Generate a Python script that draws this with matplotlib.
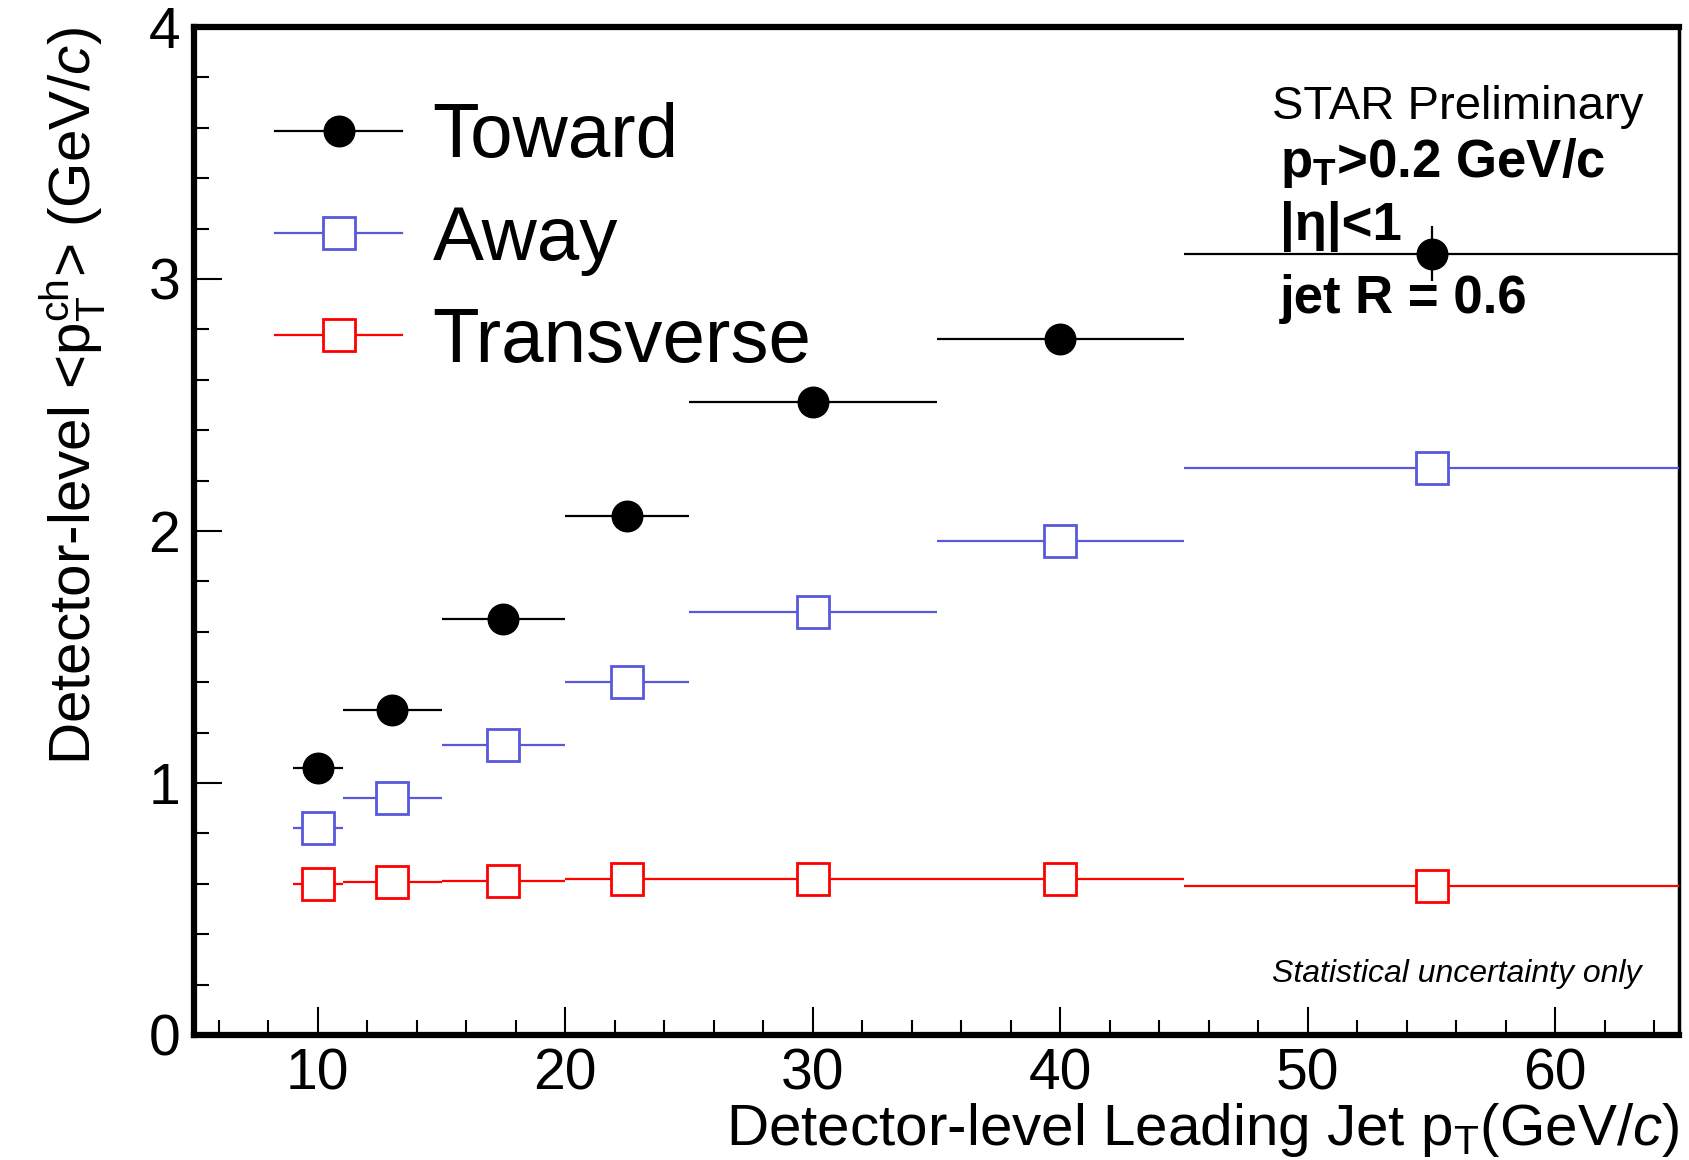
import matplotlib
matplotlib.use('Agg')
import matplotlib.pyplot as plt
from matplotlib.lines import Line2D
from matplotlib.ticker import MultipleLocator
import numpy as np

plt.rcParams['font.family'] = ['Liberation Sans', 'DejaVu Sans']
plt.rcParams['mathtext.fontset'] = 'custom'
plt.rcParams['mathtext.rm'] = 'Liberation Sans'
plt.rcParams['mathtext.it'] = 'Liberation Sans:italic'
plt.rcParams['mathtext.bf'] = 'Liberation Sans:bold'

# leading jet pT bins (GeV/c)
bin_lo = np.array([9, 11, 15, 20, 25, 35, 45])
bin_hi = np.array([11, 15, 20, 25, 35, 45, 65])

toward = np.array([1.06, 1.29, 1.65, 2.06, 2.51, 2.76, 3.10])
toward_err = np.array([0.004, 0.005, 0.007, 0.01, 0.015, 0.03, 0.11])
away = np.array([0.82, 0.94, 1.15, 1.40, 1.68, 1.96, 2.25])
away_err = np.array([0.004, 0.005, 0.006, 0.008, 0.012, 0.025, 0.05])
transverse = np.array([0.60, 0.605, 0.612, 0.62, 0.62, 0.617, 0.59])
transverse_err = np.array([0.002, 0.002, 0.003, 0.003, 0.004, 0.006, 0.01])

centers = (bin_lo + bin_hi) / 2
xerr = (bin_hi - bin_lo) / 2

blue = '#5858dc'

fig = plt.figure(figsize=(16.9, 11.6), dpi=100)
ax = fig.add_axes([0.1148, 0.1078, 0.8787, 0.8690])

ax.errorbar(centers, transverse, xerr=xerr, yerr=transverse_err, fmt='s', color='red',
            mfc='white', mec='red', ms=23, mew=2, elinewidth=1.6, capsize=0, zorder=3)
ax.errorbar(centers, away, xerr=xerr, yerr=away_err, fmt='s', color=blue,
            mfc='white', mec=blue, ms=23, mew=2, elinewidth=1.6, capsize=0, zorder=3)
ax.errorbar(centers, toward, xerr=xerr, yerr=toward_err, fmt='o', color='black',
            mfc='black', mec='black', ms=22, elinewidth=1.6, capsize=0, zorder=4)

ax.set_xlim(5, 65)
ax.set_ylim(0, 4)
ax.xaxis.set_major_locator(MultipleLocator(10))
ax.xaxis.set_minor_locator(MultipleLocator(2))
ax.yaxis.set_major_locator(MultipleLocator(1))
ax.yaxis.set_minor_locator(MultipleLocator(0.2))
ax.tick_params(which='both', direction='in', width=1.5, top=False, right=False)
ax.tick_params(which='major', length=20, labelsize=41)
ax.tick_params(which='minor', length=11)
ax.tick_params(axis='x', which='major', pad=9)
ax.tick_params(axis='y', which='major', pad=10)
for side in ['left', 'bottom', 'top']:
    ax.spines[side].set_linewidth(4.5)
ax.spines['right'].set_linewidth(2.5)

ax.set_xlabel(r'Detector-level Leading Jet p$_{\mathregular{T}}$(GeV/$c$)', fontsize=42, loc='right')
ax.xaxis.set_label_coords(1.0, -0.066)
ax.set_ylabel(r'Detector-level <p$_{\mathregular{T}}^{\mathregular{ch}}$> (GeV/$c$)', fontsize=42, loc='top')
ax.yaxis.set_label_coords(-0.058, 1.0)

handles = [
    Line2D([], [], color='black', marker='o', ms=22, mfc='black', lw=1.6),
    Line2D([], [], color=blue, marker='s', ms=23, mfc='white', mew=2, lw=1.6),
    Line2D([], [], color='red', marker='s', ms=23, mfc='white', mew=2, lw=1.6),
]
ax.legend(handles, ['Toward', 'Away', 'Transverse'], loc='upper left',
          bbox_to_anchor=(0.029, 0.963), frameon=False, fontsize=55,
          handlelength=1.66, handletextpad=0.4, labelspacing=0.41, borderpad=0)

ax.text(0.726, 0.909, 'STAR Preliminary', transform=ax.transAxes, fontsize=34,
        fontweight='light', ha='left', va='baseline')
ax.text(0.731, 0.851, r'$\mathbf{p_{T}}$>0.2 GeV/c', transform=ax.transAxes, fontsize=38,
        fontweight='bold', ha='left', va='baseline')
ax.text(0.731, 0.789, r'|η|<1', transform=ax.transAxes, fontsize=38,
        fontweight='bold', ha='left', va='baseline')
ax.text(0.731, 0.716, 'jet R = 0.6', transform=ax.transAxes, fontsize=38,
        fontweight='bold', ha='left', va='baseline')
ax.text(0.975, 0.053, 'Statistical uncertainty only', transform=ax.transAxes, fontsize=23,
        style='italic', ha='right', va='baseline')

fig.savefig('out.png', dpi=100)
